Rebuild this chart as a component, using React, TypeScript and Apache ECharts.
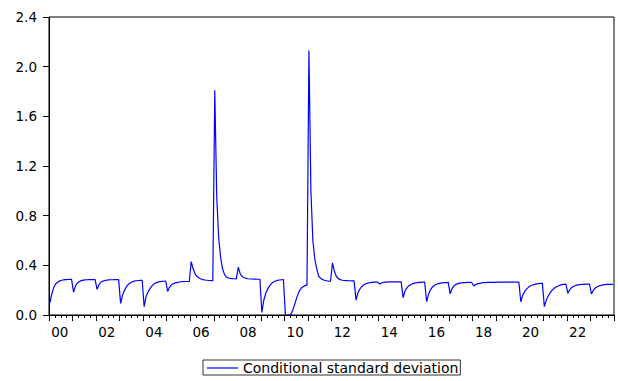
import { useEffect, useRef } from "react";
import * as echarts from "echarts";

// Monthly periods, January 2000 to December 2023
const YEARS = [
  2000, 2001, 2002, 2003, 2004, 2005, 2006, 2007, 2008, 2009, 2010, 2011,
  2012, 2013, 2014, 2015, 2016, 2017, 2018, 2019, 2020, 2021, 2022, 2023,
];
const MONTHS = ["01", "02", "03", "04", "05", "06", "07", "08", "09", "10", "11", "12"];

// Conditional standard deviation, one row of twelve monthly values per year
const SD_BY_YEAR: number[][] = [
  [0.1, 0.175, 0.225, 0.252, 0.266, 0.275, 0.28, 0.283, 0.285, 0.286, 0.287, 0.287], // 2000
  [0.183, 0.235, 0.258, 0.27, 0.277, 0.281, 0.283, 0.284, 0.285, 0.285, 0.285, 0.285], // 2001
  [0.207, 0.245, 0.264, 0.273, 0.278, 0.281, 0.283, 0.284, 0.284, 0.285, 0.285, 0.285], // 2002
  [0.094, 0.16, 0.2, 0.228, 0.248, 0.26, 0.268, 0.273, 0.276, 0.278, 0.279, 0.28], // 2003
  [0.067, 0.15, 0.185, 0.213, 0.235, 0.25, 0.259, 0.265, 0.269, 0.271, 0.272, 0.273], // 2004
  [0.19, 0.225, 0.243, 0.253, 0.259, 0.263, 0.266, 0.268, 0.269, 0.27, 0.27, 0.27], // 2005
  [0.43, 0.37, 0.33, 0.31, 0.298, 0.29, 0.285, 0.282, 0.28, 0.278, 0.277, 0.276], // 2006
  [1.81, 0.95, 0.62, 0.46, 0.37, 0.325, 0.305, 0.298, 0.295, 0.293, 0.292, 0.291], // 2007
  [0.385, 0.33, 0.31, 0.3, 0.295, 0.292, 0.29, 0.29, 0.289, 0.289, 0.288, 0.288], // 2008
  [0.02, 0.12, 0.175, 0.21, 0.237, 0.255, 0.266, 0.274, 0.279, 0.282, 0.284, 0.285], // 2009
  [0.0, 0.0, 0.0, 0.01, 0.05, 0.1, 0.15, 0.19, 0.215, 0.228, 0.236, 0.24], // 2010
  [2.13, 1.0, 0.6, 0.45, 0.37, 0.31, 0.295, 0.285, 0.28, 0.276, 0.273, 0.272], // 2011
  [0.42, 0.35, 0.31, 0.293, 0.285, 0.28, 0.278, 0.277, 0.276, 0.276, 0.275, 0.275], // 2012
  [0.12, 0.18, 0.21, 0.23, 0.243, 0.252, 0.257, 0.26, 0.262, 0.264, 0.265, 0.265], // 2013
  [0.25, 0.258, 0.262, 0.264, 0.265, 0.266, 0.266, 0.266, 0.267, 0.267, 0.267, 0.267], // 2014
  [0.14, 0.195, 0.22, 0.236, 0.246, 0.253, 0.257, 0.26, 0.262, 0.263, 0.264, 0.264], // 2015
  [0.107, 0.17, 0.205, 0.226, 0.24, 0.248, 0.253, 0.257, 0.259, 0.26, 0.261, 0.262], // 2016
  [0.17, 0.215, 0.236, 0.247, 0.253, 0.257, 0.259, 0.26, 0.261, 0.262, 0.262, 0.262], // 2017
  [0.233, 0.245, 0.251, 0.255, 0.258, 0.26, 0.261, 0.262, 0.262, 0.263, 0.263, 0.263], // 2018
  [0.264, 0.264, 0.264, 0.265, 0.265, 0.265, 0.265, 0.265, 0.265, 0.265, 0.265, 0.265], // 2019
  [0.107, 0.16, 0.19, 0.21, 0.225, 0.235, 0.242, 0.247, 0.25, 0.252, 0.254, 0.255], // 2020
  [0.067, 0.12, 0.155, 0.18, 0.2, 0.215, 0.226, 0.234, 0.24, 0.244, 0.247, 0.249], // 2021
  [0.175, 0.205, 0.222, 0.232, 0.238, 0.242, 0.245, 0.246, 0.247, 0.248, 0.248, 0.248], // 2022
  [0.17, 0.2, 0.218, 0.228, 0.235, 0.24, 0.243, 0.245, 0.246, 0.247, 0.247, 0.247], // 2023
];

const SERIES_NAME = "Conditional standard deviation";
const Y_MIN = 0;
const Y_MAX = 2.4;
const Y_STEP = 0.4;

const periods = YEARS.flatMap((y) => MONTHS.map((m) => `${y}-${m}`));
const values = SD_BY_YEAR.flat();

const FONT = "DejaVu Sans";

export default function App() {
  const ref = useRef<HTMLDivElement>(null);

  useEffect(() => {
    if (!ref.current) return;
    const chart = echarts.init(ref.current, undefined, { renderer: "svg" });
    chart.setOption({
      animation: false,
      backgroundColor: "#ffffff",
      grid: {
        left: 49,
        right: 4,
        top: 17,
        bottom: 66,
        show: true,
        borderColor: "#000000",
        borderWidth: 1,
        backgroundColor: "transparent",
      },
      legend: {
        show: true,
        left: 203,
        top: 360,
        padding: [1, 2, 0, 4],
        itemWidth: 31,
        itemHeight: 1.2,
        icon: "rect",
        borderColor: "#333333",
        borderWidth: 1,
        borderRadius: 0,
        data: [{ name: SERIES_NAME, icon: "rect", itemStyle: { color: "#0000ff" } }],
        textStyle: { fontFamily: FONT, fontSize: 14, color: "#000000" },
      },
      xAxis: [
        {
          type: "category",
          data: periods,
          boundaryGap: true,
          position: "bottom",
          axisLine: { show: true, lineStyle: { color: "#000000", width: 1 } },
          axisTick: {
            show: true,
            inside: false,
            length: 6,
            interval: (i: number) => i % 12 === 0,
            lineStyle: { color: "#000000", width: 1 },
          },
          axisLabel: {
            show: true,
            interval: (i: number) => i % 24 === 5,
            formatter: (v: string) => v.slice(2, 4),
            margin: 10,
            color: "#000000",
            fontFamily: FONT,
            fontSize: 13.5,
          },
          splitLine: { show: false },
        },
        {
          // quarterly minor ticks
          type: "category",
          data: periods,
          boundaryGap: true,
          position: "bottom",
          axisLine: { show: false },
          axisTick: {
            show: true,
            inside: false,
            length: 3,
            interval: (i: number) => i % 3 === 0 && i % 12 !== 0,
            lineStyle: { color: "#000000", width: 1 },
          },
          axisLabel: { show: false },
          splitLine: { show: false },
        },
      ],
      yAxis: {
        type: "value",
        min: Y_MIN,
        max: Y_MAX,
        interval: Y_STEP,
        axisLine: { show: true, lineStyle: { color: "#000000", width: 1 } },
        axisTick: {
          show: true,
          inside: false,
          length: 6,
          lineStyle: { color: "#000000", width: 1 },
        },
        axisLabel: {
          formatter: (v: number) => v.toFixed(1),
          margin: 12,
          color: "#000000",
          fontFamily: FONT,
          fontSize: 13.5,
        },
        splitLine: { show: false },
      },
      series: [
        {
          name: SERIES_NAME,
          type: "line",
          xAxisIndex: 0,
          data: values,
          symbol: "none",
          showSymbol: false,
          lineStyle: { color: "#0000ff", width: 1.2 },
          itemStyle: { color: "#0000ff" },
        },
      ],
    });
    return () => chart.dispose();
  }, []);

  return (
    <div
      ref={ref}
      style={{ position: "fixed", left: 0, top: 0, width: 618, height: 381, background: "#fff" }}
    />
  );
}
